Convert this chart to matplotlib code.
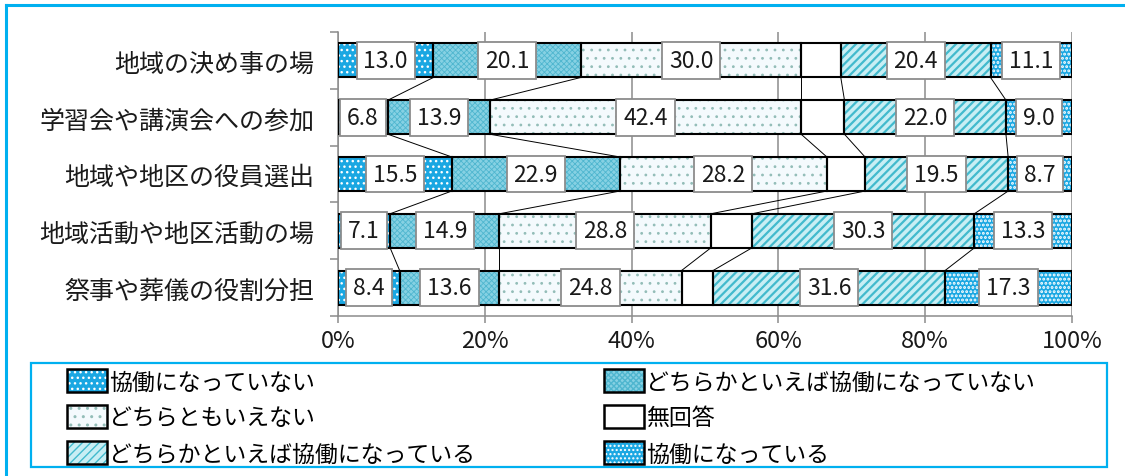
import matplotlib
matplotlib.use("Agg")
import matplotlib.pyplot as plt
from matplotlib.patches import Patch, Rectangle
from matplotlib.lines import Line2D
from matplotlib.legend_handler import HandlerTuple
import numpy as np

plt.rcParams["font.family"] = ["Noto Sans CJK JP", "DejaVu Sans"]
plt.rcParams["hatch.linewidth"] = 1.0

categories = [
    "地域の決め事の場",
    "学習会や講演会への参加",
    "地域や地区の役員選出",
    "地域活動や地区活動の場",
    "祭事や葬儀の役割分担",
]
series_names = [
    "協働になっていない",
    "どちらかといえば協働になっていない",
    "どちらともいえない",
    "無回答",
    "どちらかといえば協働になっている",
    "協働になっている",
]
not_cooperative = [13.0, 6.8, 15.5, 7.1, 8.4]
rather_not_cooperative = [20.1, 13.9, 22.9, 14.9, 13.6]
neutral = [30.0, 42.4, 28.2, 28.8, 24.8]
no_answer = [5.4, 5.9, 5.2, 5.6, 4.3]
rather_cooperative = [20.4, 22.0, 19.5, 30.3, 31.6]
cooperative = [11.1, 9.0, 8.7, 13.3, 17.3]
tick_values = [0, 20, 40, 60, 80, 100]

series_values = [not_cooperative, rather_not_cooperative, neutral,
                 no_answer, rather_cooperative, cooperative]
labelled = [True, True, True, False, True, True]

styles = [
    dict(face="#1AA7E2", hatch="...", hcolor="white", hlw=1.0),
    dict(face="#86D1E3", hatch="xxxxxx", hcolor="#4FB6CF", hlw=0.6),
    dict(face="#F4FAFD", hatch="..", hcolor="#93BDB8", hlw=0.8),
    dict(face="white", hatch=None, hcolor="white", hlw=1.0),
    dict(face="#C8EEF4", hatch="////", hcolor="#42BACD", hlw=1.6),
    dict(face="#1AA7E2", hatch="....", hcolor="white", hlw=1.4),
]

W, H = 1125, 477
fig = plt.figure(figsize=(W / 100, H / 100), dpi=100)
ax = fig.add_axes([338 / W, 1 - 317 / H, (1072 - 338) / W, (317 - 33) / H])

y = np.arange(len(categories))
bar_h = 0.6
left = np.zeros(len(categories))
bounds = [left.copy()]
for vals, st in zip(series_values, styles):
    vals = np.asarray(vals)
    with plt.rc_context({"hatch.linewidth": st["hlw"]}):
        fill = ax.barh(y, vals, left=left, height=bar_h, color=st["face"],
                       edgecolor=st["hcolor"], hatch=st["hatch"],
                       linewidth=0, zorder=2)
    for p in fill.patches:
        if hasattr(p, "set_hatch_linewidth"):
            p.set_hatch_linewidth(st["hlw"])
    ax.barh(y, vals, left=left, height=bar_h, fill=False,
            edgecolor="black", linewidth=1.5, zorder=3)
    left = left + vals
    bounds.append(left.copy())

# value labels in white boxes
for k, (vals, show) in enumerate(zip(series_values, labelled)):
    if not show:
        continue
    for i, v in enumerate(vals):
        ax.text(bounds[k][i] + v / 2, y[i], f"{v:.1f}", ha="center",
                va="center", fontsize=16.5, color="#1a1a1a", zorder=6,
                bbox=dict(boxstyle="square,pad=0.3", fc="white",
                          ec="#8C8C8C", lw=1.3))

# series lines linking segment boundaries of neighbouring bars
for k in range(1, len(series_values)):
    for i in range(len(categories) - 1):
        ax.plot([bounds[k][i], bounds[k][i + 1]],
                [y[i] + bar_h / 2, y[i + 1] - bar_h / 2],
                color="black", lw=0.7, zorder=4)

ax.set_xlim(0, 100)
ax.set_ylim(len(categories) - 0.5, -0.5)
ax.set_xticks(tick_values)
ax.set_xticklabels([f"{t}%" for t in tick_values], fontsize=17, color="#1a1a1a")
ax.xaxis.grid(True, color="#8C8C8C", lw=1.1)
ax.set_axisbelow(True)
ax.tick_params(axis="x", length=5, width=1.1, color="#8C8C8C", pad=4)

ax.set_yticks(np.arange(-0.5, len(categories), 1.0))
ax.set_yticklabels([])
ax.set_yticks(y, minor=True)
ax.set_yticklabels(categories, minor=True, fontsize=18, color="#1a1a1a")
ax.tick_params(axis="y", which="major", length=6, width=1.1, color="#8C8C8C")
ax.tick_params(axis="y", which="minor", length=0, pad=17)

for side in ("top", "right"):
    ax.spines[side].set_visible(False)
for side in ("left", "bottom"):
    ax.spines[side].set_color("#8C8C8C")
    ax.spines[side].set_linewidth(1.1)

# frame lines and legend box
frame_c = "#00B0F0"
fig.add_artist(Line2D([6 / W, 6 / W], [0, 1 - 6 / H], transform=fig.transFigure,
                      color=frame_c, lw=2.2))
fig.add_artist(Line2D([6 / W, 1], [1 - 6 / H, 1 - 6 / H], transform=fig.transFigure,
                      color=frame_c, lw=2.2))
fig.add_artist(Rectangle((31 / W, 1 - 468 / H), (1107 - 31) / W, (468 - 364) / H,
                         transform=fig.transFigure, fill=False, ec=frame_c, lw=1.6))

handles = []
for st in styles:
    hp = Patch(facecolor=st["face"], edgecolor=st["hcolor"], hatch=st["hatch"], lw=0)
    if hasattr(hp, "set_hatch_linewidth"):
        hp.set_hatch_linewidth(st["hlw"])
    handles.append((hp, Patch(fill=False, edgecolor="black", lw=1.8)))
order = [0, 2, 4, 1, 3, 5]
fig.legend([handles[i] for i in order], [series_names[i] for i in order],
           ncol=2, loc="upper left", bbox_to_anchor=(67 / W, 1 - 370 / H),
           bbox_transform=fig.transFigure, frameon=False, fontsize=16.5,
           handlelength=1.75, handleheight=1.2, handletextpad=0.1,
           columnspacing=5.6, labelspacing=0.5, borderpad=0, borderaxespad=0,
           handler_map={tuple: HandlerTuple(ndivide=1, pad=0)})

fig.savefig("out.png", dpi=100)
